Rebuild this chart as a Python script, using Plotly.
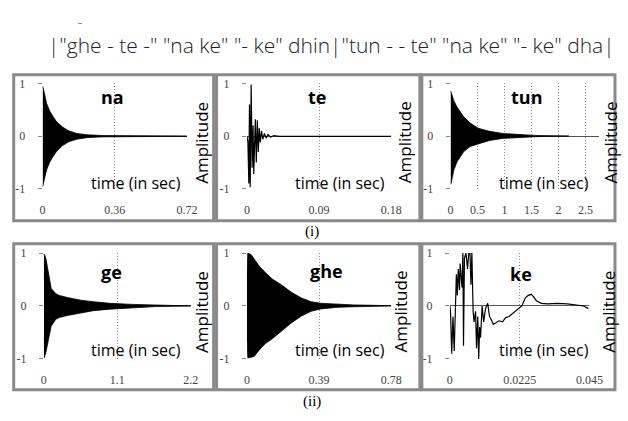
import plotly.graph_objects as go

W, H = 628, 421

# ---------------- data ----------------
# dense decaying strokes are given as amplitude envelopes (upper / lower)
na_t = [0.0, 0.004, 0.01, 0.02, 0.035, 0.05, 0.07, 0.10, 0.13, 0.17, 0.22, 0.30, 0.45, 0.72]
na_up = [0.95, 0.9, 0.8, 0.62, 0.48, 0.38, 0.27, 0.17, 0.10, 0.05, 0.025, 0.01, 0.005, 0.0]
na_lo = [-0.97, -0.92, -0.8, -0.64, -0.5, -0.4, -0.29, -0.18, -0.11, -0.06, -0.03, -0.015, -0.008, -0.004]

te_t = [0.0, 0.0012, 0.0024, 0.0032, 0.0041, 0.0053, 0.0065, 0.0077, 0.0085, 0.0097, 0.0105,
        0.0117, 0.013, 0.0142, 0.0154, 0.0166, 0.0182, 0.0198, 0.0219, 0.0239, 0.0263,
        0.0296, 0.0336, 0.0405, 0.18]
te_amp = [0.0, -0.1, -0.9, 0.6, -0.97, 0.98, -0.6, 0.2, -0.72, 0.15, 0.32,
          -0.5, 0.3, -0.3, 0.15, -0.12, 0.1, -0.06, 0.05, -0.04, 0.03,
          -0.02, 0.01, -0.005, -0.005]

tun_t = [0.0, 0.012, 0.06, 0.12, 0.24, 0.36, 0.51, 0.72, 0.96, 1.26, 1.56, 1.86, 2.19]
tun_up = [0.86, 0.83, 0.67, 0.55, 0.37, 0.25, 0.15, 0.09, 0.05, 0.025, 0.012, 0.006, 0.0]
tun_lo = [-0.92, -0.89, -0.65, -0.49, -0.3, -0.2, -0.15, -0.085, -0.045, -0.025, -0.012, -0.006, 0.0]

ge_t = [0.0, 0.005, 0.03, 0.063, 0.11, 0.18, 0.23, 0.35, 0.55, 0.74, 0.99, 1.33, 1.67, 2.2]
ge_up = [0.5, 0.98, 0.9, 0.63, 0.33, 0.23, 0.2, 0.16, 0.11, 0.08, 0.05, 0.03, 0.015, 0.0]
ge_lo = [-0.6, -0.98, -0.88, -0.65, -0.38, -0.25, -0.22, -0.18, -0.13, -0.09, -0.06, -0.03, -0.012, 0.0]

ghe_t = [0.0, 0.005, 0.023, 0.04, 0.067, 0.10, 0.137, 0.19, 0.24, 0.295, 0.347, 0.40, 0.49, 0.575, 0.78]
ghe_up = [0.6, 1.0, 0.97, 0.88, 0.75, 0.63, 0.51, 0.39, 0.26, 0.15, 0.08, 0.05, 0.03, 0.02, 0.005]
ghe_lo = [-0.6, -0.98, -0.97, -0.95, -0.83, -0.71, -0.62, -0.47, -0.32, -0.19, -0.1, -0.055, -0.025, -0.015, 0.0]

ke_t = [0.0, 0.0002, 0.0006, 0.001, 0.0014, 0.0017, 0.0021, 0.0024, 0.0027, 0.0031, 0.0033,
        0.0039, 0.0042, 0.0044, 0.0047, 0.0052, 0.0057, 0.0061, 0.0065, 0.0068, 0.0071,
        0.0075, 0.0078, 0.0083, 0.0086, 0.009, 0.0093, 0.0096, 0.0099, 0.0104, 0.0109,
        0.0115, 0.0122, 0.0128, 0.0133, 0.014, 0.0149, 0.0159, 0.017, 0.018, 0.0191,
        0.0201, 0.0211, 0.0222, 0.0232, 0.0243, 0.0253, 0.0262, 0.0269, 0.0279, 0.0295,
        0.0316, 0.0347, 0.0379, 0.041, 0.0431, 0.0447]
ke_amp = [0.0, -0.1, -0.9, -0.2, -0.85, -0.3, 0.6, 0.2, 0.7, 0.3, 0.8,
          0.35, 1.0, -0.75, 0.9, 1.0, 0.7, 1.0, 1.0, 0.4, 1.0,
          -0.1, -0.3, -0.1, -0.8, -0.2, -1.0, -0.4, -0.6, 0.0, -0.3,
          -0.05, 0.05, -0.2, -0.25, -0.35, -0.32, -0.28, -0.3, -0.22, -0.2,
          -0.15, -0.1, -0.05, 0.0, 0.15, 0.2, 0.22, 0.18, 0.1, 0.05,
          0.04, 0.05, 0.04, 0.02, 0.0, -0.05]

panel_names = ["na", "te", "tun", "ge", "ghe", "ke"]
x_max = [0.72, 0.18, 2.75, 2.2, 0.78, 0.045]
x_tickvals = [[0, 0.36, 0.72], [0, 0.09, 0.18], [0, 0.5, 1, 1.5, 2, 2.5],
              [0, 1.1, 2.2], [0, 0.39, 0.78], [0, 0.0225, 0.045]]
x_ticktext = [["0", "0.36", "0.72"], ["0", "0.09", "0.18"], ["0", "0.5", "1", "1.5", "2", "2.5"],
              ["0", "1.1", "2.2"], ["0", "0.39", "0.78"], ["0", "0.0225", "0.045"]]
y_ticks = [-1, 0, 1]
y_ticktext = ["-1", "0", "1"]

title_text = '|"ghe - te -" "na ke" "- ke" dhin|"tun - - te" "na ke" "- ke" dha|'

# ---------------- layout helpers ----------------
def px(x):
    return x / W

def py(y):
    return 1 - y / H

# plot areas in pixels (left, right, top(=+1), bottom(=-1))
areas = [
    (40.7, 189.0, 79, 188),
    (250.7, 399.0, 79, 188),
    (460.0, 612.7, 79, 188),
    (42.0, 193.0, 254.5, 364),
    (250.7, 399.0, 254.5, 364),
    (459.3, 602.7, 254.5, 364),
]
title_pos = [(113, 93), (323, 93), (538, 93), (112, 274), (333, 273), (532, 276)]
time_pos = [(185, 182), (395, 182), (604, 182), (185, 355), (395, 355), (604, 355)]
amp_pos = [(204, 140), (413, 140), (624, 140), (204, 315), (409, 315), (622, 315)]

fig = go.Figure()

def env(i, t, up, lo):
    xa = "x" if i == 0 else f"x{i+1}"
    ya = "y" if i == 0 else f"y{i+1}"
    fig.add_trace(go.Scatter(x=t, y=up, mode="lines", line=dict(color="black", width=0.8),
                             xaxis=xa, yaxis=ya, showlegend=False, hoverinfo="skip"))
    fig.add_trace(go.Scatter(x=t, y=lo, mode="lines", line=dict(color="black", width=0.8),
                             fill="tonexty", fillcolor="black",
                             xaxis=xa, yaxis=ya, showlegend=False, hoverinfo="skip"))

def line(i, t, a):
    xa = "x" if i == 0 else f"x{i+1}"
    ya = "y" if i == 0 else f"y{i+1}"
    fig.add_trace(go.Scatter(x=t, y=a, mode="lines", line=dict(color="black", width=1.2),
                             xaxis=xa, yaxis=ya, showlegend=False, hoverinfo="skip"))

env(0, na_t, na_up, na_lo)
line(1, te_t, te_amp)
env(2, tun_t, tun_up, tun_lo)
env(3, ge_t, ge_up, ge_lo)
env(4, ghe_t, ghe_up, ghe_lo)
line(5, ke_t, ke_amp)

tick_font = dict(family="Liberation Serif", size=12, color="#444")
sans = "Open Sans"

annotations = []
shapes = []
for i, (l, r, t, b) in enumerate(areas):
    sfx = "" if i == 0 else str(i + 1)
    fig.layout["xaxis" + sfx] = dict(
        domain=[px(l), px(r)], range=[0, x_max[i]], anchor="y" + sfx,
        tickvals=x_tickvals[i], ticktext=x_ticktext[i], ticks="", tickfont=tick_font,
        ticklabelstandoff=12,
        showgrid=True, gridcolor="#8a8a8a", griddash="1px,2px", gridwidth=1,
        zeroline=False, showline=False, fixedrange=True,
    )
    fig.layout["yaxis" + sfx] = dict(
        domain=[py(b), py(t)], range=[-1, 1], anchor="x" + sfx,
        tickvals=y_ticks, ticktext=y_ticktext, ticks="outside", ticklen=4,
        tickcolor="#888", tickfont=tick_font, ticklabelstandoff=10,
        showgrid=False, zeroline=True, zerolinecolor="#555", zerolinewidth=1,
        showline=False, fixedrange=True,
    )
    tx, ty = title_pos[i]
    annotations.append(dict(text=f"<b>{panel_names[i]}</b>", xref="paper", yref="paper",
                            x=px(tx), y=py(ty), xanchor="center", yanchor="middle",
                            showarrow=False,
                            font=dict(family=sans, size=18, color="black")))
    mx, my = time_pos[i]
    annotations.append(dict(text="time (in sec)", xref="paper", yref="paper",
                            x=px(mx), y=py(my), xanchor="right", yanchor="middle",
                            showarrow=False,
                            font=dict(family=sans, size=16, color="black")))
    ax_, ay_ = amp_pos[i]
    annotations.append(dict(text="Amplitude", xref="paper", yref="paper",
                            x=px(ax_), y=py(ay_), xanchor="center", yanchor="middle",
                            textangle=-90, showarrow=False,
                            font=dict(family=sans, size=17, color="black")))

# frames
frame_rows = [(70, 221), (245, 396)]
frame_cols = [(11, 216.5), (219.5, 428.5), (430.5, 629)]
for (ft, fb) in frame_rows:
    for (fl, fr) in frame_cols:
        shapes.append(dict(type="rect", xref="paper", yref="paper",
                           x0=px(fl), x1=px(fr), y0=py(fb), y1=py(ft),
                           line=dict(color="#8a8a8a", width=3)))

annotations.append(dict(text=title_text, xref="paper", yref="paper",
                        x=px(44), y=py(39), xanchor="left", yanchor="middle",
                        showarrow=False,
                        font=dict(family=sans, size=21, color="#222", weight=300)))
annotations.append(dict(text="\u2013", xref="paper", yref="paper",
                        x=px(79), y=py(15), xanchor="center", yanchor="middle",
                        showarrow=False,
                        font=dict(family=sans, size=8, color="#222")))
annotations.append(dict(text="(i)", xref="paper", yref="paper",
                        x=px(318), y=py(232), xanchor="center", yanchor="middle",
                        showarrow=False,
                        font=dict(family="Liberation Serif", size=15, color="black")))
annotations.append(dict(text="(ii)", xref="paper", yref="paper",
                        x=px(318), y=py(408), xanchor="center", yanchor="middle",
                        showarrow=False,
                        font=dict(family="Liberation Serif", size=15, color="black")))

fig.update_layout(
    width=W, height=H, margin=dict(l=0, r=0, t=0, b=0),
    paper_bgcolor="white", plot_bgcolor="white",
    annotations=annotations, shapes=shapes, showlegend=False,
)

fig.write_html("out.html", config={"displayModeBar": False},
               post_script="document.body.style.margin='0';")
